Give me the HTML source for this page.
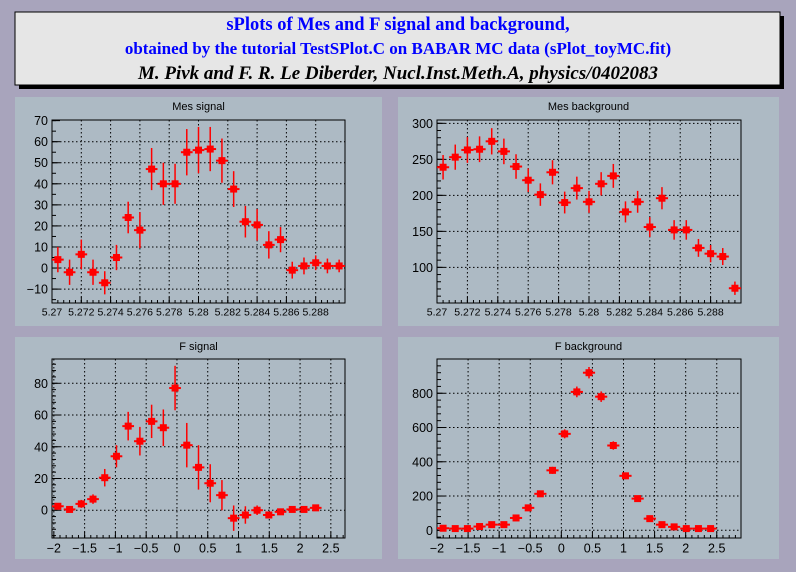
<!DOCTYPE html>
<html><head><meta charset="utf-8"><style>
body{margin:0;background:#a8a4bc;}
svg{display:block;font-family:"Liberation Sans",sans-serif;}
</style></head><body>
<svg id="s" width="796" height="572" xmlns="http://www.w3.org/2000/svg">
<rect x="0" y="0" width="796" height="572" fill="#a8a4bc"/>
<rect x="19" y="16" width="765" height="73" fill="#000"/>
<rect x="15" y="12" width="765" height="73" fill="#e6e6e6" stroke="#000" stroke-width="1"/>
<text x="398" y="30" text-anchor="middle" font-family="Liberation Serif,serif" font-weight="bold" font-size="18.5" fill="#0000ff">sPlots of Mes and F signal and background,</text>
<text x="398" y="54" text-anchor="middle" font-family="Liberation Serif,serif" font-weight="bold" font-size="17" fill="#0000ff">obtained by the tutorial TestSPlot.C on BABAR MC data (sPlot_toyMC.fit)</text>
<text x="398" y="79" text-anchor="middle" font-family="Liberation Serif,serif" font-weight="bold" font-style="italic" font-size="19" fill="#000">M. Pivk and F. R. Le Diberder, Nucl.Inst.Meth.A, physics/0402083</text>
<g id="g"></g>
</svg>
<script>
var g=document.getElementById('g'),h='';
function panel(P){
 var px=P.pad[0],py=P.pad[1],pw=P.pad[2],ph=P.pad[3];
 h+='<rect x="'+px+'" y="'+py+'" width="'+pw+'" height="'+ph+'" fill="#adbac4"/>';
 h+='<text x="'+(px+pw/2)+'" y="'+(py+13)+'" text-anchor="middle" font-size="11" fill="#000">'+P.title+'</text>';
 var fx=P.f[0],fy=P.f[1],fw=P.f[2],fh=P.f[3];
 function X(v){return fx+(v-P.xr[0])/(P.xr[1]-P.xr[0])*fw;}
 function Y(v){return fy+fh-(v-P.yr[0])/(P.yr[1]-P.yr[0])*fh;}
 P.xt.forEach(function(t){var x=X(t[0]);
  if(x>fx+1&&x<fx+fw-1)h+='<line x1="'+x+'" y1="'+fy+'" x2="'+x+'" y2="'+(fy+fh)+'" stroke="#000" stroke-dasharray="1.5,2.5"/>';
  h+='<line x1="'+x+'" y1="'+(fy+fh)+'" x2="'+x+'" y2="'+(fy+fh-6)+'" stroke="#000"/>';
  h+='<text x="'+x+'" y="'+(fy+fh+P.xls+2)+'" text-anchor="middle" font-size="'+P.xls+'">'+t[1]+'</text>';});
 P.yt.forEach(function(t){var y=Y(t[0]);
  if(y>fy+1&&y<fy+fh-1)h+='<line x1="'+fx+'" y1="'+y+'" x2="'+(fx+fw)+'" y2="'+y+'" stroke="#000" stroke-dasharray="1.5,2.5"/>';
  h+='<line x1="'+fx+'" y1="'+y+'" x2="'+(fx+8)+'" y2="'+y+'" stroke="#000"/>';
  h+='<text x="'+(fx-4)+'" y="'+(y+4.5)+'" text-anchor="end" font-size="12.5">'+t[1]+'</text>';});
 for(var v=P.xm[0];v<=P.xr[1];v+=P.xm[1]){var x=X(v);if(x>=fx&&x<=fx+fw)h+='<line x1="'+x+'" y1="'+(fy+fh)+'" x2="'+x+'" y2="'+(fy+fh-3)+'" stroke="#000"/>';}
 for(var v=P.ym[0];v<=P.yr[1];v+=P.ym[1]){var y=Y(v);if(y>=fy&&y<=fy+fh)h+='<line x1="'+fx+'" y1="'+y+'" x2="'+(fx+4)+'" y2="'+y+'" stroke="#000"/>';}
 h+='<rect x="'+fx+'" y="'+fy+'" width="'+fw+'" height="'+fh+'" fill="none" stroke="#000"/>';
 var bw=fw/25;
 P.d.forEach(function(v,i){var cx=fx+bw*(i+0.5),cy=Y(v),e=P.e(v,i)*fh/(P.yr[1]-P.yr[0]);
  var y1=Math.max(fy,cy-e),y2=Math.min(fy+fh,cy+e);
  h+='<line x1="'+(cx-bw/2)+'" y1="'+cy+'" x2="'+(cx+bw/2)+'" y2="'+cy+'" stroke="#f00" stroke-width="2"/>';
  h+='<line x1="'+cx+'" y1="'+y1+'" x2="'+cx+'" y2="'+y2+'" stroke="#f00" stroke-width="1.5"/>';
  h+='<rect x="'+(cx-3.5)+'" y="'+(cy-3.5)+'" width="7" height="7" fill="#f00"/>';});
}
var mx=[];for(var i=0;i<10;i++){var v=5.27+0.002*i;mx.push([v,(i==5?'5.28':v.toFixed(3))]);}mx[0][1]='5.27';
var fxT=[];for(var v=-2;v<=2.5;v+=0.5){fxT.push([v,(v<0?'\u2212':'')+Math.abs(v)]);}
var es1=[6,6,7,6,5.5,6,7.5,8.5,10,10,9.5,11,11,10.5,10.5,8.5,7.5,7.5,6.5,6,4,4,3.5,3.5,3];
panel({pad:[15,97,367,229],title:'Mes signal',f:[52,120,293,183],xr:[5.27,5.29],yr:[-16.6,70.3],xls:10.5,
 xt:mx,yt:[[-10,'\u221210'],[0,'0'],[10,'10'],[20,'20'],[30,'30'],[40,'40'],[50,'50'],[60,'60'],[70,'70']],
 xm:[5.27,0.0004],ym:[-15,5],
 d:[4,-2,6.5,-2,-7,5,24,18,47,40,40,55,56,56.5,51,37.5,22,20.5,11,13.5,-1,1,2.5,1,1],e:function(v,i){return es1[i];}});
panel({pad:[398,97,381,229],title:'Mes background',f:[437,120,304,183],xr:[5.27,5.29],yr:[50.5,304.6],xls:10.5,
 xt:mx,yt:[[100,'100'],[150,'150'],[200,'200'],[250,'250'],[300,'300']],
 xm:[5.27,0.0004],ym:[60,10],
 d:[239,253,263,264,275,261,240,221,201,232,190,210,191,216,227,177,191,156,196,152,152,127,119,115,71],e:function(v){return Math.sqrt(v)*1.1;}});
var es3=[2,1.5,2.5,3,5.5,7,9,9,10.5,11.5,14,14,14,12,9.5,8,5.5,3,1.5,1.5,1,1,1];
panel({pad:[15,337,367,222],title:'F signal',f:[52,359,293,179],xr:[-2.03,2.73],yr:[-17.5,95.3],xls:12.5,
 xt:fxT,yt:[[0,'0'],[20,'20'],[40,'40'],[60,'60'],[80,'80']],
 xm:[-2,0.1],ym:[-16,4],
 d:[2.5,0.5,4,7,20.5,34,53,43.5,56,52,77,41,27,17,9.5,-5,-3,0,-3,-1,0.5,0.5,1.5],e:function(v,i){return es3[i];}});
panel({pad:[398,337,381,222],title:'F background',f:[437,359,304,179],xr:[-2,2.89],yr:[-45,1000],xls:12.5,
 xt:fxT,yt:[[0,'0'],[200,'200'],[400,'400'],[600,'600'],[800,'800']],
 xm:[-2,0.1],ym:[-40,40],
 d:[12,10,10,22,33,33,72,131,213,350,563,808,920,780,495,318,185,68,33,20,10,10,10],e:function(v){return Math.sqrt(v)*1.1;}});
g.innerHTML=h;
</script>
</body></html>
